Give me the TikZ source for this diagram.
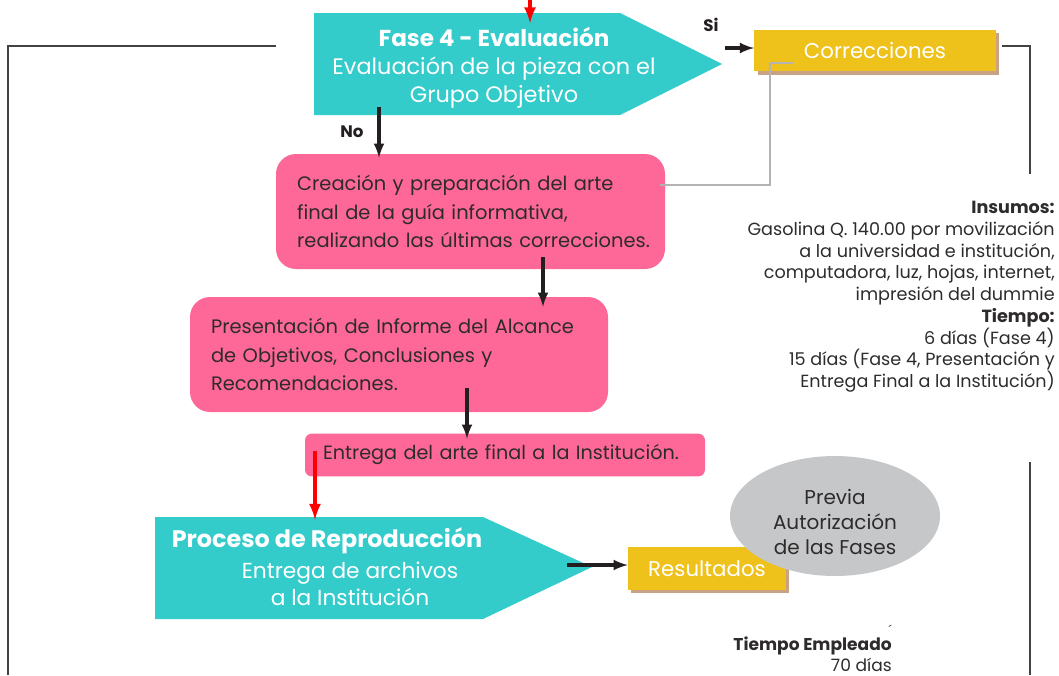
\documentclass[tikz,border=0pt]{standalone}
\usepackage{fontspec}
\setmainfont{Poppins}
\usetikzlibrary{positioning,shapes.geometric,shadows}

\definecolor{turquesa}{HTML}{34CBCB}
\definecolor{rosa}{HTML}{FE6898}
\definecolor{oro}{HTML}{EEC11B}
\definecolor{sombra}{HTML}{C9A183}
\definecolor{grisclaro}{HTML}{B3B3B3}
\definecolor{grisovalo}{HTML}{C6C7C9}
\definecolor{texto}{HTML}{2E2B2C}
\definecolor{negro}{HTML}{231F20}

\tikzset{
  caja/.style={rectangle, rounded corners=15pt, fill=rosa, text=texto, align=left, inner xsep=15pt,
    font=\fontsize{14.6}{21.5}\selectfont},
  etiqueta/.style={rectangle, fill=oro, text=white, font=\fontsize{16}{18}\selectfont,
    general shadow={fill=sombra, shadow xshift=2.5pt, shadow yshift=-2.5pt}},
  flecha/.style={->, >=latex, line width=2.6pt, draw=negro},
  flecharoja/.style={->, >=latex, line width=3pt, draw=red},
  marco/.style={line width=1pt, draw=negro!85},
}

\begin{document}
\begin{tikzpicture}[x=0.75pt, y=-0.75pt, font=\fontsize{12}{16}\selectfont]

	\useasboundingbox (0,0) rectangle (1059,675);

	% marcos laterales
	\draw[marco] (276,46) -- (8,46) -- (8,675);
	\draw[marco] (1002,46) -- (1030,46) -- (1030,174);
	\draw[marco] (1030,462) -- (1030,675);

	% fase 4
	\fill[turquesa] (314,13) -- (620,13) -- (722,64) -- (620,115) -- (314,115) -- cycle;
	\node[align=center, text=white, font=\fontsize{16.8}{21}\selectfont] (fase) at (494,68)
		{{\fontsize{17.3}{21}\selectfont\bfseries Fase 4 - Evaluación}\\Evaluación de la pieza con el\\Grupo Objetivo};

	\node[etiqueta, minimum width=181pt, minimum height=31pt] (corr) at (875,50.5) {Correcciones};

	% cajas rosas
	\node[caja, minimum width=291.75pt, minimum height=86.25pt, text width=260pt] (crea) at (470.5,211.5)
		{Creación y preparación del arte\\final de la guía informativa,\\\mbox{realizando las últimas correcciones.}};
	\node[caja, minimum width=313.5pt, minimum height=86.25pt, text width=282pt] (pres) at (399,354.5)
		{Presentación de Informe del Alcance\\de Objetivos, Conclusiones y\\Recomendaciones.};
	\node[caja, rounded corners=5pt, minimum width=300pt, minimum height=32pt, text width=273pt, inner xsep=13.5pt,
		font=\fontsize{14.4}{21.5}\selectfont] (entrega) at (505,455)
		{Entrega del arte final a la Institución.};

	% proceso de reproduccion
	\fill[turquesa] (155,517) -- (483,517) -- (592,567) -- (483,619) -- (155,619) -- cycle;
	\node[text=white, font=\fontsize{17.9}{21}\selectfont\bfseries] (proceso) at (327,541) {Proceso de Reproducción};
	\node[align=center, text=white, font=\fontsize{16.3}{20.5}\selectfont] (archivos) at (350,584)
		{Entrega de archivos\\a la Institución};

	\node[etiqueta, minimum width=118.5pt, minimum height=32pt] (res) at (707,568.5) {Resultados};

	\node[ellipse, fill=grisovalo, minimum width=157.5pt, minimum height=90pt, inner sep=0pt] (previa) at (835,516) {};
	\node[align=center, text=texto, font=\fontsize{15}{18.75}\selectfont, inner sep=0pt] (previaTexto) at (835,522)
		{Previa\\Autorización\\de las Fases};

	% conectores
	\coordinate (rojoIni) at (530,-2);
	\draw[flecharoja] (rojoIni) -- (530,23);
	\coordinate (siIni) at (725,48);
	\draw[flecha] (siIni) -- (siIni -| corr.west);
	\node[font=\fontsize{12.5}{14}\selectfont\bfseries, text=negro] (si) at (711,25) {Si};
	\coordinate (noIni) at (379,107);
	\draw[flecha] (noIni) -- ([yshift=-3pt]noIni |- crea.north);
	\node[font=\fontsize{12.5}{14}\selectfont\bfseries, text=negro] (no) at (352,132) {No};
	\draw[grisclaro, line width=1.5pt] (660,185) -| (770,63) -- (793,63);
	\coordinate (c1) at (543,257);
	\draw[flecha] (c1) -- ([yshift=-7.5pt]c1 |- pres.north);
	\coordinate (c2) at (467,388);
	\draw[flecha] (c2) -- ([yshift=-4pt]c2 |- entrega.north);
	\coordinate (c3) at (315,451);
	\draw[flecharoja] (c3) -- ([yshift=-2pt]c3 |- 0,517);
	\coordinate (c4) at (567,565);
	\draw[flecha] (c4) -- (c4 -| res.west);

	% insumos y tiempo
	\node[anchor=north east, align=right, text=texto, font=\fontsize{13.2}{16.3}\selectfont, inner sep=0pt] (insumos) at (1055,201)
		{\textbf{Insumos:}\\Gasolina Q. 140.00 por movilización\\a la universidad e institución,\\computadora, luz, hojas, internet,\\impresión del dummie\\\textbf{Tiempo:}\\6 días (Fase 4)\\15 días (Fase 4, Presentación y\\Entrega Final a la Institución)};

	\node[anchor=north east, align=right, text=texto, font=\fontsize{12.8}{15.5}\selectfont, inner sep=0pt] (empleado) at (892,637)
		{\textbf{Tiempo Empleado}\\70 días};
	\node[text=texto, font=\fontsize{9}{9}\selectfont, inner sep=0pt] (tilde) at (890,630) {´};

\end{tikzpicture}
\end{document}
